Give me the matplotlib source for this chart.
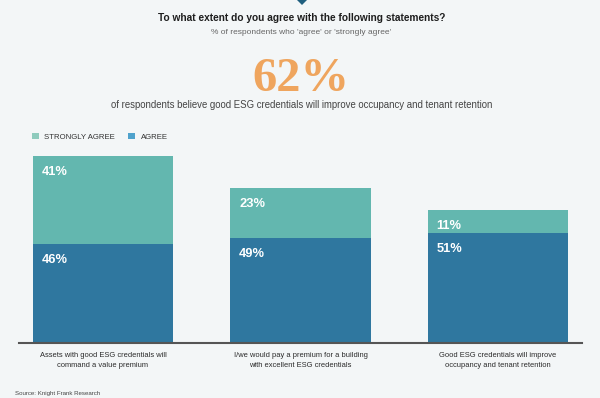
import matplotlib
matplotlib.use("Agg")
import matplotlib.pyplot as plt
from matplotlib.patches import Patch, Polygon

categories = [
    "Assets with good ESG credentials will\ncommand a value premium",
    "I/we would pay a premium for a building\nwith excellent ESG credentials",
    "Good ESG credentials will improve\noccupancy and tenant retention",
]
agree = [46, 49, 51]
strongly_agree = [41, 23, 11]
series_names = ["STRONGLY AGREE", "AGREE"]

title = "To what extent do you agree with the following statements?"
subtitle = "% of respondents who 'agree' or 'strongly agree'"
headline = "62%"
headline_text = "of respondents believe good ESG credentials will improve occupancy and tenant retention"
source = "Source: Knight Frank Research"

BG = "#f3f6f7"
C_STRONG = "#63b7af"
C_AGREE = "#2f779f"
L_STRONG = "#8ecbbd"
L_AGREE = "#4fa2cc"

W, H = 600, 398
fig = plt.figure(figsize=(W / 100, H / 100), dpi=100, facecolor=BG)
plt.rcParams["font.family"] = ["Liberation Sans", "DejaVu Sans"]


def fx(px):
    return px / W


def fy(py):
    return 1 - py / H


def fit(t, width_px):
    r = fig.canvas.get_renderer()
    w = t.get_window_extent(r).width
    t.set_fontsize(t.get_fontsize() * width_px / w)
    return t.get_fontsize()


# axes
ax = fig.add_axes([fx(19), fy(343), (582 - 19) / W, (343 - 149.5) / H])
ax.set_facecolor(BG)
x = list(range(len(categories)))
bw = 0.713
ax.bar(x, agree, width=bw, color=C_AGREE, zorder=2)
ax.bar(x, strongly_agree, width=bw, bottom=agree, color=C_STRONG, zorder=2)
ax.set_xlim(-0.425, 2.425)
ax.set_ylim(0, 90)
ax.axhline(0, color="#555555", lw=1.5, zorder=3, clip_on=False)
for s in ax.spines.values():
    s.set_visible(False)
ax.set_xticks([])
ax.set_yticks([])

for i in x:
    for val, top in ((agree[i], agree[i]), (strongly_agree[i], agree[i] + strongly_agree[i])):
        ax.annotate(f"{val}%", xy=(i - bw / 2, top), xytext=(9, -16),
                    textcoords="offset pixels", ha="left", va="center",
                    color="white", fontsize=9.3, fontweight="bold", zorder=4)

# category labels
fs_cat = None
for i, lab in enumerate(categories):
    t = ax.annotate(lab, xy=(i, 0), xytext=(0, -9), textcoords="offset pixels",
                    ha="center", va="top", fontsize=6, color="#2a2a2a",
                    linespacing=1.6, annotation_clip=False)
    if fs_cat is None:
        fs_cat = fit(t, 127.5)
    else:
        t.set_fontsize(fs_cat)

# titles
t = fig.text(fx(302), fy(21), title, ha="center", va="baseline",
             fontweight="bold", color="#1e1e1e", fontsize=9)
fit(t, 288)
t = fig.text(fx(301.5), fy(33.5), subtitle, ha="center", va="baseline",
             color="#666666", fontsize=6)
fit(t, 182)
t = fig.text(fx(301), fy(91), headline, ha="center", va="baseline",
             family=["Liberation Serif", "DejaVu Serif"], fontweight="bold",
             color="#efa55e", fontsize=36)
fit(t, 97)
t = fig.text(fx(301.5), fy(108), headline_text, ha="center", va="baseline",
             color="#444444", fontsize=7)
fit(t, 383)
t = fig.text(fx(15), fy(395), source, ha="left", va="baseline",
             color="#444444", fontsize=5)
fit(t, 87)

# legend
handles = [Patch(facecolor=L_STRONG, edgecolor="none"),
           Patch(facecolor=L_AGREE, edgecolor="none")]
leg = fig.legend(handles, series_names, loc="upper left",
                 bbox_to_anchor=(fx(31.5), fy(133)), bbox_transform=fig.transFigure,
                 ncol=2, frameon=False, fontsize=5.6, borderpad=0, borderaxespad=0,
                 handlelength=0.9, handleheight=0.9, handletextpad=0.75,
                 columnspacing=1.7)
for txt in leg.get_texts():
    txt.set_color("#333333")

# small marker at top
fig.add_artist(Polygon([[fx(297), fy(0)], [fx(307), fy(0)], [fx(302), fy(5)]],
                       closed=True, transform=fig.transFigure,
                       facecolor="#1f5f7f", edgecolor="none"))

fig.savefig("out.png", dpi=100, facecolor=BG)
